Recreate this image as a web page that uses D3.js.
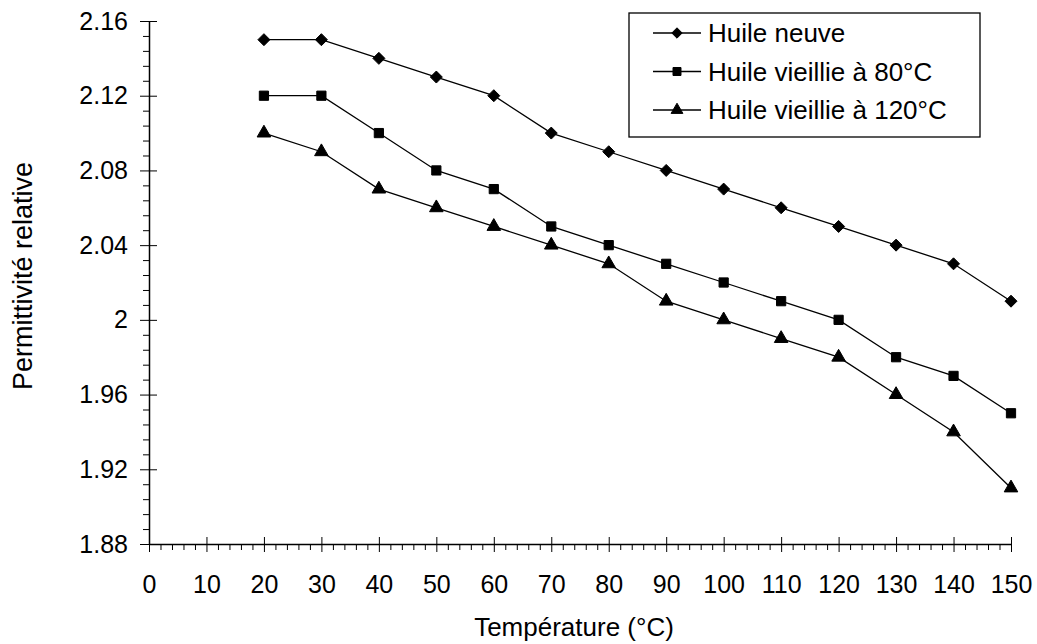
<!DOCTYPE html>
<html>
<head>
<meta charset="utf-8">
<script src="https://cdn.jsdelivr.net/npm/d3@7"></script>
<style>
  html, body { margin: 0; padding: 0; background: #fff; }
  svg { display: block; }
  text { font-family: "Liberation Sans", Arial, sans-serif; fill: #000; }
</style>
</head>
<body>
<svg id="chart" width="1037" height="644"></svg>
<script>
const temperatures = [20, 30, 40, 50, 60, 70, 80, 90, 100, 110, 120, 130, 140, 150];
const huileNeuve   = [2.15, 2.15, 2.14, 2.13, 2.12, 2.10, 2.09, 2.08, 2.07, 2.06, 2.05, 2.04, 2.03, 2.01];
const huile80      = [2.12, 2.12, 2.10, 2.08, 2.07, 2.05, 2.04, 2.03, 2.02, 2.01, 2.00, 1.98, 1.97, 1.95];
const huile120     = [2.10, 2.09, 2.07, 2.06, 2.05, 2.04, 2.03, 2.01, 2.00, 1.99, 1.98, 1.96, 1.94, 1.91];
const seriesNames  = ["Huile neuve", "Huile vieillie à 80°C", "Huile vieillie à 120°C"];
const xTicks = [0, 10, 20, 30, 40, 50, 60, 70, 80, 90, 100, 110, 120, 130, 140, 150];
const yTicks = [1.88, 1.92, 1.96, 2.00, 2.04, 2.08, 2.12, 2.16];
const yTickLabels = ["1.88", "1.92", "1.96", "2", "2.04", "2.08", "2.12", "2.16"];
const xTitle = "Température (°C)";
const yTitle = "Permittivité relative";

const svg = d3.select("#chart");
const x = d3.scaleLinear().domain([0, 150]).range([149, 1011]);
const y = d3.scaleLinear().domain([1.88, 2.16]).range([544, 21]);
const FS = 25;
const FONT = '"Liberation Sans", Arial, sans-serif';

// minor ticks
const xMinor = d3.range(0, 150.001, 2).filter(v => v % 10 !== 0);
const yMinor = d3.range(0, 36).map(i => 1.88 + i * 0.008).filter((v, i) => i % 5 !== 0);

const g = svg.append("g");

// X axis
const xAxis = d3.axisBottom(x).tickValues(xTicks).tickSizeInner(8).tickSizeOuter(0).tickPadding(23).tickFormat(d3.format("d"));
const gx = g.append("g").attr("transform", `translate(0,${y(1.88)})`).call(xAxis);
gx.select(".domain").attr("stroke", "#000").attr("stroke-width", 1.5);
gx.selectAll(".tick line").attr("stroke", "#000").attr("y1", -7).attr("y2", 8);
gx.selectAll(".tick text").attr("font-size", FS).attr("font-family", FONT).attr("fill", "#000");
const gxm = g.append("g").attr("transform", `translate(0,${y(1.88)})`)
  .call(d3.axisBottom(x).tickValues(xMinor).tickSize(6).tickFormat(""));
gxm.select(".domain").remove();
gxm.selectAll(".tick line").attr("stroke", "#000");

// Y axis
const yAxis = d3.axisLeft(y).tickValues(yTicks).tickSizeInner(9).tickSizeOuter(0).tickPadding(12)
  .tickFormat((d, i) => yTickLabels[i]);
const gy = g.append("g").attr("transform", `translate(${x(0)},0)`).call(yAxis);
gy.select(".domain").attr("stroke", "#000").attr("stroke-width", 1.5);
gy.selectAll(".tick line").attr("stroke", "#000").attr("x1", 8).attr("x2", -9);
gy.selectAll(".tick text").attr("font-size", FS).attr("font-family", FONT).attr("fill", "#000");
const gym = g.append("g").attr("transform", `translate(${x(0)},0)`)
  .call(d3.axisLeft(y).tickValues(yMinor).tickSize(6).tickFormat(""));
gym.select(".domain").remove();
gym.selectAll(".tick line").attr("stroke", "#000");

// Titles
svg.append("text").attr("x", 574).attr("y", 636)
  .attr("text-anchor", "middle").attr("font-size", 26).text(xTitle);
svg.append("text").attr("transform", `translate(32,276) rotate(-90)`)
  .attr("text-anchor", "middle").attr("font-size", 27).text(yTitle);

// Series
const diamond = { draw(ctx, size) { const r = Math.sqrt(size / 2); ctx.moveTo(0, -r); ctx.lineTo(r, 0); ctx.lineTo(0, r); ctx.lineTo(-r, 0); ctx.closePath(); } };
const series = [
  { name: seriesNames[0], values: huileNeuve, symbol: diamond, size: 72 },
  { name: seriesNames[1], values: huile80, symbol: d3.symbolSquare, size: 85 },
  { name: seriesNames[2], values: huile120, symbol: d3.symbolTriangle, size: 80 }
];
const line = d3.line().x(d => x(d[0])).y(d => y(d[1]));
series.forEach(s => {
  const pts = temperatures.map((t, i) => [t, s.values[i]]);
  svg.append("path").datum(pts).attr("d", line).attr("fill", "none").attr("stroke", "#000").attr("stroke-width", 1.3);
  svg.append("g").selectAll("path").data(pts).join("path")
    .attr("transform", d => `translate(${x(d[0])},${y(d[1])})`)
    .attr("d", d3.symbol().type(s.symbol).size(s.size))
    .attr("fill", "#000").attr("stroke", "#000").attr("stroke-width", 1).attr("stroke-linejoin", "round");
});

// Legend
const lg = svg.append("g");
lg.append("rect").attr("x", 629).attr("y", 13).attr("width", 351).attr("height", 124)
  .attr("fill", "#fff").attr("stroke", "#000").attr("stroke-width", 1.3);
series.forEach((s, i) => {
  const cy = 33 + i * 38.5;
  lg.append("line").attr("x1", 653).attr("x2", 701).attr("y1", cy).attr("y2", cy).attr("stroke", "#000").attr("stroke-width", 1.3);
  lg.append("path").attr("transform", `translate(677,${cy})`).attr("d", d3.symbol().type(s.symbol).size(s.size * 0.75))
    .attr("fill", "#000").attr("stroke", "#000").attr("stroke-width", 1).attr("stroke-linejoin", "round");
  lg.append("text").attr("x", 708).attr("y", cy + 9).attr("font-size", 26).text(s.name);
});
</script>
</body>
</html>
